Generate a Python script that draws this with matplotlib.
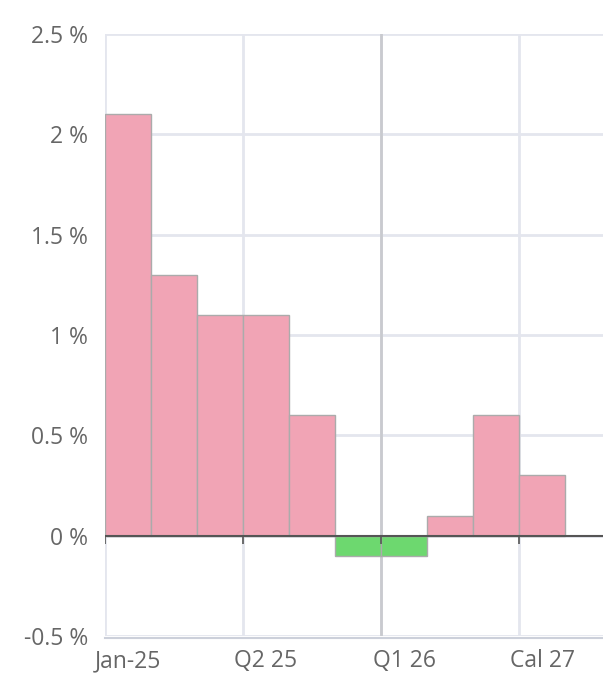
import matplotlib.pyplot as plt
import numpy as np

categories = ["Jan-25", "Feb-25", "Mar-25", "Q2 25", "Q3 25", "Q4 25",
              "Q1 26", "Q2 26", "Q3 26", "Cal 27"]
change_pct = [2.1, 1.3, 1.1, 1.1, 0.6, -0.1, -0.1, 0.1, 0.6, 0.3]
y_ticks = [-0.5, 0, 0.5, 1, 1.5, 2, 2.5]

UP = "#f1a4b5"
DOWN = "#6dd86f"
GRID = "#e4e6ee"
TEXT = "#666666"

plt.rcParams["font.family"] = ["Open Sans", "DejaVu Sans"]

fig = plt.figure(figsize=(6.03, 6.81), dpi=100)
ax = fig.add_axes([105 / 603, 1 - 636 / 681, 1 - 105 / 603, 602 / 681])

x = np.arange(len(categories))
colors = [UP if v >= 0 else DOWN for v in change_pct]
ax.bar(x, change_pct, width=1.0, color=colors, edgecolor="#ababab",
       linewidth=1.0, zorder=3)

ax.set_xlim(-0.5, -0.5 + 498 / 46)
ax.set_ylim(-0.5, 2.5)

# horizontal grid
ax.set_yticks(y_ticks)
ax.set_yticklabels([f"{t:g} %" for t in y_ticks])
for t in y_ticks:
    ax.axhline(t, color=GRID, linewidth=2, zorder=1)

# vertical grid at category boundaries, every third category
label_idx = list(range(0, len(categories), 3))
for i in label_idx:
    ax.axvline(i - 0.5, color=GRID, linewidth=2, zorder=1)
ax.axvline(label_idx[2] - 0.5, color="#c9cacf", linewidth=2, zorder=2)

# zero line with small tick marks
ax.axhline(0, color="#555555", linewidth=1.5, zorder=4)
for i in label_idx:
    ax.plot([i - 0.5, i - 0.5], [0, -0.04], color="#555555", linewidth=1.2,
            zorder=4, solid_capstyle="butt")

ax.set_xticks(label_idx)
ax.set_xticklabels([categories[i] for i in label_idx])

for s in ["top", "right", "left"]:
    ax.spines[s].set_visible(False)
ax.spines["bottom"].set_color("#ccd0da")
ax.spines["bottom"].set_linewidth(1.5)
ax.spines["bottom"].set_position(("data", -0.51))

ax.tick_params(axis="both", length=0, labelsize=16.5, colors=TEXT)
ax.tick_params(axis="y", pad=12)
ax.tick_params(axis="x", pad=8)

fig.savefig("out.png", dpi=100)
